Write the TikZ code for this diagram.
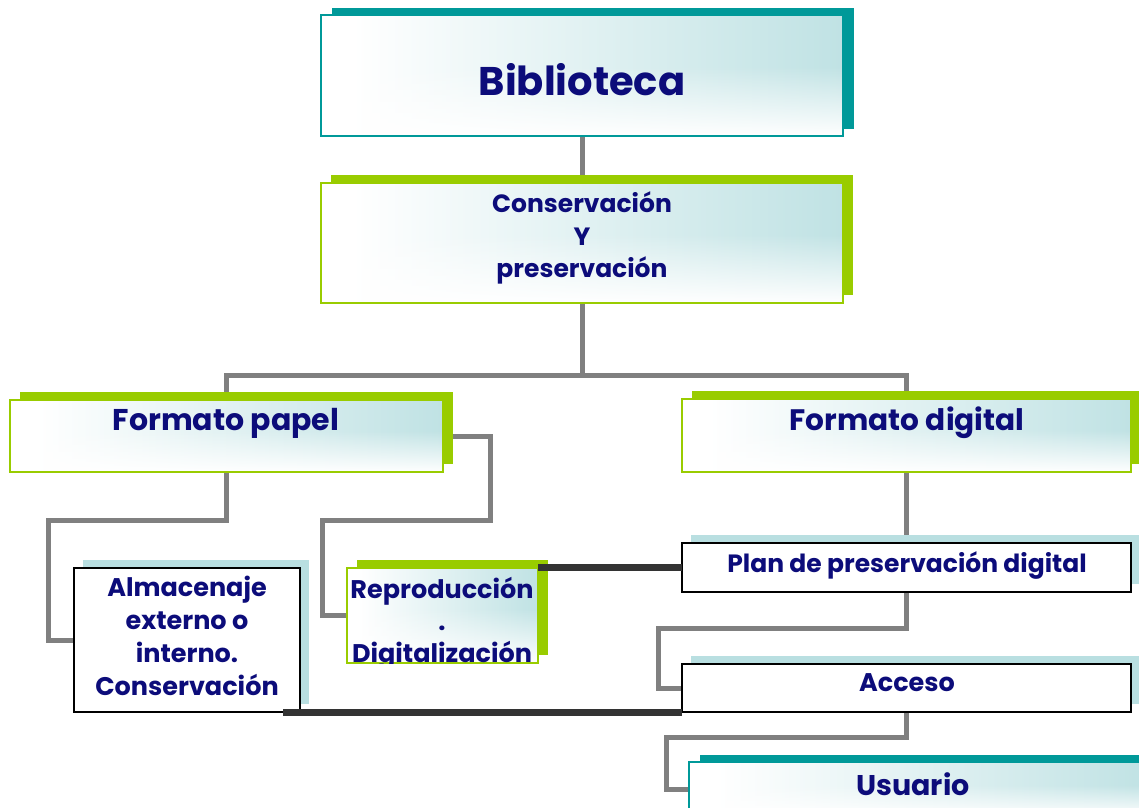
\documentclass[tikz,border=0pt]{standalone}
\usepackage{fontspec}
\setmainfont{Poppins}
\usetikzlibrary{shadows,fadings,calc,backgrounds}
\definecolor{navy}{RGB}{12,12,122}
\definecolor{tealc}{RGB}{0,153,153}
\definecolor{greenc}{RGB}{153,204,0}
\definecolor{lteal}{RGB}{185,223,225}
\definecolor{grayc}{RGB}{128,128,128}
\definecolor{darkc}{RGB}{51,51,51}
\pgfdeclarehorizontalshading{boxgrad}{100bp}{color(0bp)=(white); color(28bp)=(white); color(80bp)=(lteal); color(100bp)=(lteal)}
\begin{document}
\begin{tikzpicture}[x=1pt,y=-1pt,
  gradfill/.style={path picture={
     \shade[shading=boxgrad] (path picture bounding box.south west) rectangle (path picture bounding box.north east);
     \fill[white, path fading=north] (path picture bounding box.south west) rectangle ($(path picture bounding box.east)!0.15!(path picture bounding box.north east)$);
  }},
  basebox/.style={rectangle, inner sep=0pt, outer sep=0pt},
  tealbox/.style={basebox, draw=tealc, line width=1.2pt, gradfill, general shadow={fill=tealc, shadow xshift=11pt, shadow yshift=7pt}},
  greenbox/.style={basebox, draw=greenc, line width=1.2pt, gradfill, general shadow={fill=greenc, shadow xshift=10pt, shadow yshift=8pt}},
  plainbox/.style={basebox, draw=black, line width=2pt, fill=white, general shadow={fill=lteal, shadow xshift=9pt, shadow yshift=8pt}},
  txt/.style={text=navy, font=\bfseries, align=center, inner sep=0pt},
  conn/.style={draw=grayc, line width=5pt},
  dk/.style={draw=darkc, line width=7pt}
]
\useasboundingbox (0,0) rectangle (1139,807);

% boxes
\node[tealbox, minimum width=522pt, minimum height=121pt] (bib) at (582,75.5) {};
\node[greenbox, minimum width=522pt, minimum height=120pt] (cons) at (582,243) {};
\node[greenbox, minimum width=433pt, minimum height=72pt] (fp) at (226.5,436) {};
\node[greenbox, minimum width=449pt, minimum height=73pt] (fd) at (906.5,435.5) {};
\node[plainbox, minimum width=226pt, minimum height=144pt] (alm) at (187,640) {};
\node[greenbox, minimum width=191pt, minimum height=95pt] (rep) at (442.5,615.5) {};
\node[plainbox, minimum width=449pt, minimum height=49pt] (plan) at (906.5,567.5) {};
\node[plainbox, minimum width=449pt, minimum height=48pt] (acc) at (906.5,688) {};
\node[tealbox, minimum width=461pt, minimum height=54pt] (usu) at (919.5,789) {};

% texts
\node[txt, font=\bfseries\fontsize{40}{48}\selectfont] (bibT) at (582,80) {Biblioteca};
\node[txt, font=\bfseries\fontsize{25}{32.5}\selectfont] (consT) at (582,238) {Conservación\\Y\\preservación};
\node[txt, font=\bfseries\fontsize{30}{36}\selectfont] (fpT) at (226,423) {Formato papel};
\node[txt, font=\bfseries\fontsize{29.6}{36}\selectfont] (fdT) at (907,423) {Formato digital};
\node[txt, font=\bfseries\fontsize{25.5}{33}\selectfont] (almT) at (187,636) {Almacenaje\\externo o\\interno.\\Conservación};
\begin{scope}
\clip (rep.south west) rectangle (rep.north east);
\node[txt, font=\bfseries\fontsize{25.5}{32}\selectfont] (repT) at (442,623) {Reproducción\\.\\Digitalización};
\end{scope}
\node[txt, font=\bfseries\fontsize{25}{30}\selectfont] (planT) at (907,565) {Plan de preservación digital};
\node[txt, font=\bfseries\fontsize{25.5}{30}\selectfont] (accT) at (907,683) {Acceso};
\node[txt, font=\bfseries\fontsize{28.5}{36}\selectfont] (usuT) at (913,784) {Usuario};

% gray connectors behind boxes
\begin{pgfonlayer}{background}
\draw[conn] (bib.south) -- (cons.north);
\draw[conn] (cons.south) -- ++(0,72) coordinate (j1);
\draw[conn] (fp.north) |- (j1) -| (fd.north);
\draw[conn] (fp.south) -- ++(0,48) -| ([xshift=-26pt]alm.west) -- (alm.west);
\draw[conn] (fp.east) -- ++(47,0) -- ++(0,84) -| ([xshift=-25pt]rep.west) -- (rep.west);
\draw[conn] (fd.south) -- (plan.north);
\draw[conn] (plan.south) -- ++(0,36) -| ([xshift=-24pt]acc.west) -- (acc.west);
\draw[conn] (acc.south) -- ++(0,25) -| ([xshift=-23pt]usu.west) -- (usu.west);
\end{pgfonlayer}

% dark connectors
\draw[dk] (plan.west) -- (plan.west -| rep.east);
\draw[dk] (acc.south west) -- ([xshift=-17pt]alm.south east);
\end{tikzpicture}
\end{document}
